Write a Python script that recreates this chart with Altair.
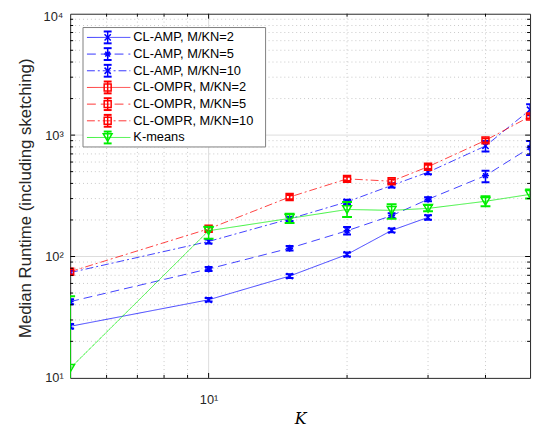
import altair as alt
import pandas as pd

# ---------------- data ----------------
K_all = [5, 10, 15, 20, 25, 30, 40, 50]

amp2_K = [5, 10, 15, 20, 25, 30]
amp2_med = [26.6, 44, 69, 104, 164, 210]
amp2_lo = [25.5, 42.5, 66.5, 100, 158, 201]
amp2_hi = [27.8, 45.5, 71.5, 108, 170, 219]

amp5_med = [42.5, 79, 117, 163, 217, 296, 464, 789]
amp5_lo = [40.5, 76, 112, 152, 208, 285, 409, 684]
amp5_hi = [44.5, 82, 122, 175, 227, 308, 509, 895]

amp10_med = [73.7, 133, 204, 282, 385, 495, 814, 1618]
amp10_lo = [71, 128, 196, 270, 370, 476, 734, 1455]
amp10_hi = [76.5, 138, 212, 294, 400, 515, 895, 1796]

ompr10_med = [75, 169, 309, 436, 417, 549, 905, 1426]
ompr10_lo = [71, 162, 297, 419, 400, 527, 870, 1370]
ompr10_hi = [79, 176, 321, 453, 434, 571, 940, 1485]

km_med = [12, 163, 206, 244, 240, 249, 285, 325]
km_lo = [8, 140, 189, 212, 205, 236, 259, 300]
km_hi = [47, 176, 225, 281, 269, 266, 313, 357]

legend_names = ["CL-AMP, M/KN=2", "CL-AMP, M/KN=5", "CL-AMP, M/KN=10",
                "CL-OMPR, M/KN=2", "CL-OMPR, M/KN=5", "CL-OMPR, M/KN=10",
                "K-means"]

x_major = [10]
x_minor = [6, 7, 8, 9, 20, 30, 40]
y_major = [100, 1000]
y_minor = [m * 10 ** e for e in (1, 2, 3) for m in range(2, 10)]
y_label_vals = [10, 100, 1000]
y_top_label = [10000]

# ---------------- styling ----------------
W, H = 466, 369
BLUE, RED, GREEN = "#0000ff", "#ff0000", "#00ee00"
SOLID, DASH, DASHDOT = [1, 0], [9, 5], [8, 3, 2, 3]
XSHAPE = "M-1,-1L1,1M-1,1L1,-1"
STAR = "M-1,0L1,0M0,-1L0,1M-0.7,-0.7L0.7,0.7M-0.7,0.7L0.7,-0.7"
CAP = "M-1,0L1,0"

series = [
    dict(name=legend_names[0], K=amp2_K, med=amp2_med, lo=amp2_lo, hi=amp2_hi,
         color=BLUE, dash=SOLID, shape=XSHAPE, size=40, cap=64),
    dict(name=legend_names[1], K=K_all, med=amp5_med, lo=amp5_lo, hi=amp5_hi,
         color=BLUE, dash=DASH, shape=STAR, size=49, cap=64),
    dict(name=legend_names[2], K=K_all, med=amp10_med, lo=amp10_lo, hi=amp10_hi,
         color=BLUE, dash=DASHDOT, shape=XSHAPE, size=40, cap=64),
    dict(name=legend_names[3], K=[], med=[], lo=[], hi=[],
         color=RED, dash=SOLID, shape="square", size=50, cap=49),
    dict(name=legend_names[4], K=[], med=[], lo=[], hi=[],
         color=RED, dash=DASH, shape="square", size=50, cap=49),
    dict(name=legend_names[5], K=K_all, med=ompr10_med, lo=ompr10_lo, hi=ompr10_hi,
         color=RED, dash=DASHDOT, shape="square", size=50, cap=49),
    dict(name=legend_names[6], K=K_all, med=km_med, lo=km_lo, hi=km_hi,
         color=GREEN, dash=SOLID, shape="triangle-down", size=80, cap=100),
]

xs = alt.Scale(type="log", domain=[5, 50], nice=False)
ys = alt.Scale(type="log", domain=[10, 10000], nice=False)

layers = []

# axes (labels + titles only) -- first layer
axis_df = pd.DataFrame({"x": [10], "y": [100]})
layers.append(alt.Chart(axis_df).mark_point(opacity=0).encode(
    x=alt.X("x:Q", scale=xs, axis=alt.Axis(
        values=[10], labelExpr="'10¹'", tickSize=0, domain=False, grid=False,
        labelFontSize=13, labelFont="Liberation Sans", labelColor="#262626",
        labelPadding=16, title="K", titleFont="DejaVu Serif", titleFontStyle="italic",
        titleFontWeight="normal", titleFontSize=16, titleColor="black",
        titleY=46, titleBaseline="alphabetic")),
    y=alt.Y("y:Q", scale=ys, axis=alt.Axis(
        values=y_label_vals,
        labelExpr="datum.value == 10 ? '10¹' : datum.value == 100 ? '10²' : '10³'",
        tickSize=0, domain=False, grid=False, labelFontSize=13, labelFont="Liberation Sans",
        labelColor="#262626", labelPadding=7,
        title="Median Runtime (including sketching)", titleFont="Liberation Sans",
        titleFontWeight="normal", titleFontSize=17, titleColor="#262626",
        titleX=-45, titleY=H / 2 + 2, titleBaseline="middle", titleAlign="center"))))

# top y label (kept inside the page)
layers.append(alt.Chart(pd.DataFrame({"y": y_top_label})).mark_text(
    text="10⁴", align="right", baseline="middle", dy=3, font="Liberation Sans",
    fontSize=13, color="#262626").encode(
    x=alt.value(-7), y=alt.Y("y:Q", scale=ys, axis=None)))

# grid
def vrules(vals, **kw):
    return alt.Chart(pd.DataFrame({"x": vals})).mark_rule(**kw).encode(
        x=alt.X("x:Q", scale=xs, axis=None))

def hrules(vals, **kw):
    return alt.Chart(pd.DataFrame({"y": vals})).mark_rule(**kw).encode(
        y=alt.Y("y:Q", scale=ys, axis=None))

layers.append(vrules(x_minor, color="#c8c8c8", strokeDash=[1, 3], strokeWidth=1))
layers.append(hrules(y_minor, color="#c8c8c8", strokeDash=[1, 3], strokeWidth=1))
layers.append(vrules(x_major, color="#dcdcdc", strokeWidth=1))
layers.append(hrules(y_major, color="#dcdcdc", strokeWidth=1))

# data
for s in series:
    if not s["K"]:
        continue
    df = pd.DataFrame({"K": s["K"], "med": s["med"], "lo": s["lo"], "hi": s["hi"]})
    base = alt.Chart(df)
    x = alt.X("K:Q", scale=xs, axis=None)
    layers.append(base.mark_line(color=s["color"], strokeDash=s["dash"], strokeWidth=1,
                                 opacity=0.75, clip=True).encode(
        x=x, y=alt.Y("med:Q", scale=ys, axis=None)))
    layers.append(base.mark_rule(color=s["color"], strokeWidth=1.5, clip=True).encode(
        x=x, y=alt.Y("lo:Q", scale=ys, axis=None), y2="hi:Q"))
    for f in ("lo", "hi"):
        layers.append(base.mark_point(shape=CAP, size=s["cap"], color=s["color"],
                                      strokeWidth=2, opacity=1, clip=True).encode(
            x=x, y=alt.Y(f + ":Q", scale=ys, axis=None)))
    layers.append(base.mark_point(shape=s["shape"], size=s["size"], color=s["color"],
                                  filled=False, strokeWidth=1.5, opacity=1, clip=True).encode(
        x=x, y=alt.Y("med:Q", scale=ys, axis=None)))

# tick marks on all four sides
def xticks(vals, L):
    d = pd.DataFrame({"x": vals})
    out = []
    for y0, y1 in ((H, H - L), (0, L)):
        out.append(alt.Chart(d).mark_rule(color="black", strokeWidth=1).encode(
            x=alt.X("x:Q", scale=xs, axis=None), y=alt.value(y0), y2=alt.value(y1)))
    return out

def yticks(vals, L):
    d = pd.DataFrame({"y": vals})
    out = []
    for x0, x1 in ((0, L), (W, W - L)):
        out.append(alt.Chart(d).mark_rule(color="black", strokeWidth=1).encode(
            y=alt.Y("y:Q", scale=ys, axis=None), x=alt.value(x0), x2=alt.value(x1)))
    return out

layers += xticks(x_minor, 3) + xticks(x_major, 5)
layers += yticks(y_minor, 3) + yticks(y_major, 5)

# legend (drawn manually)
one = pd.DataFrame({"a": [0]})
layers.append(alt.Chart(one).mark_rect(fill="white", stroke="#7f7f7f", strokeWidth=1).encode(
    x=alt.value(13), x2=alt.value(198), y=alt.value(14), y2=alt.value(135)))
for i, s in enumerate(series):
    py = 24 + i * 16.9
    ld = pd.DataFrame({"py": [py]})
    lb = alt.Chart(ld)
    yenc = alt.Y("py:Q", scale=None, axis=None)
    layers.append(lb.mark_rule(color=s["color"], strokeDash=s["dash"], strokeWidth=1,
                               opacity=0.8).encode(
        x=alt.value(17), x2=alt.value(61), y=yenc))
    layers.append(lb.mark_rule(color=s["color"], strokeWidth=1.5).encode(
        x=alt.value(38), y=alt.value(py - 6), y2=alt.value(py + 6)))
    for off in (-6, 6):
        layers.append(lb.mark_rule(color=s["color"], strokeWidth=2).encode(
            x=alt.value(34), x2=alt.value(42), y=alt.value(py + off)))
    layers.append(lb.mark_point(shape=s["shape"], size=s["size"], color=s["color"],
                                filled=False, strokeWidth=1.5, opacity=1).encode(
        x=alt.value(38), y=yenc))
    layers.append(lb.mark_text(text=s["name"], align="left", baseline="middle",
                               font="Liberation Sans", fontSize=13, color="black").encode(
        x=alt.value(64), y=yenc))

chart = alt.layer(*layers).resolve_axis(x="independent", y="independent").properties(
    width=W, height=H,
    autosize=alt.AutoSizeParams(type="none"),
    padding={"left": 63, "top": 3, "right": 5, "bottom": 50},
).configure_view(stroke="#262626", strokeWidth=1)

chart.save("out.html", embed_options={"renderer": "svg", "actions": False})
